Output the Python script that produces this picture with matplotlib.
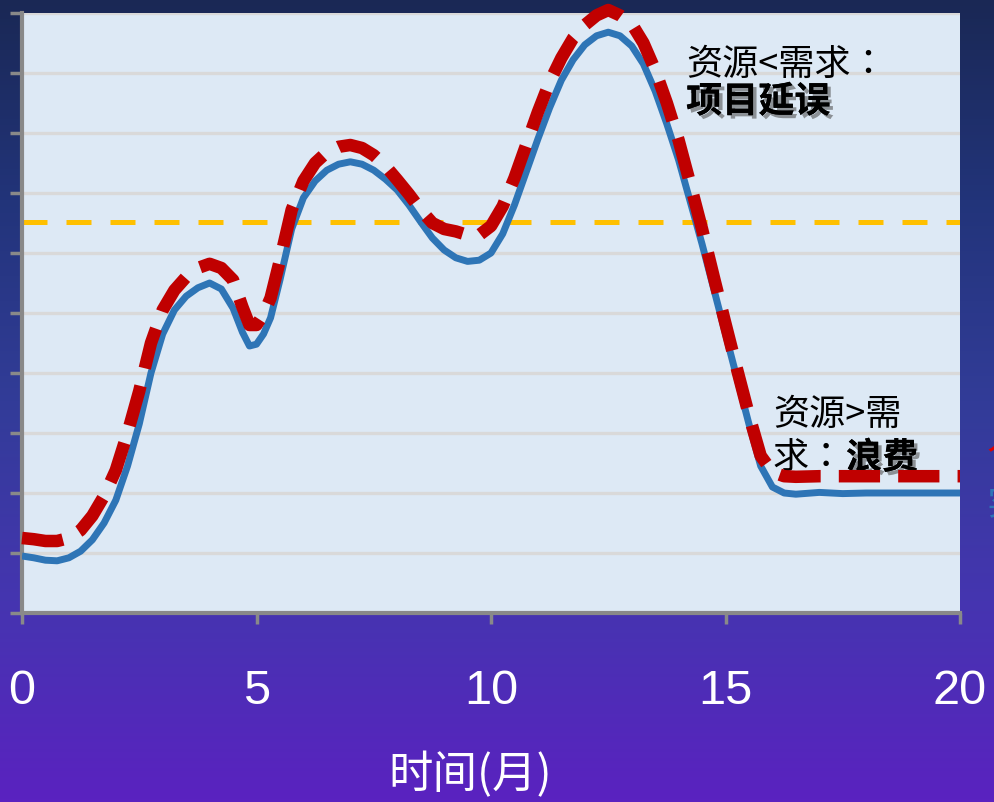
import numpy as np
import matplotlib
matplotlib.use('Agg')
import matplotlib.pyplot as plt
import matplotlib.patheffects as pe
from matplotlib.colors import LinearSegmentedColormap

plt.rcParams['font.family'] = ['Noto Sans CJK SC', 'DejaVu Sans']

# month axis and the two curves
months = [0, 0.25, 0.5, 0.75, 1.0, 1.25, 1.5, 1.75, 2.0, 2.25, 2.5, 2.75, 3.0, 3.25, 3.5,
          3.75, 4.0, 4.25, 4.5, 4.7, 4.85, 5.0, 5.15, 5.3, 5.5, 5.75, 6.0, 6.25, 6.5,
          6.75, 7.0, 7.25, 7.5, 7.75, 8.0, 8.25, 8.5, 8.75, 9.0, 9.25, 9.5, 9.75, 10.0,
          10.25, 10.5, 10.75, 11.0, 11.25, 11.5, 11.75, 12.0, 12.25, 12.5, 12.75, 13.0,
          13.25, 13.5, 13.75, 14.0, 14.25, 14.5, 14.75, 15.0, 15.25, 15.5, 15.75, 16.0,
          16.25, 16.5, 17.0, 17.5, 18.0, 19.0, 20.0]
resource = [0.95, 0.92, 0.88, 0.87, 0.92, 1.03, 1.22, 1.50, 1.88, 2.45, 3.15, 4.00, 4.65,
            5.05, 5.28, 5.42, 5.50, 5.40, 5.08, 4.68, 4.45, 4.48, 4.65, 4.92, 5.55, 6.40,
            6.92, 7.20, 7.38, 7.48, 7.52, 7.48, 7.38, 7.23, 7.05, 6.80, 6.52, 6.25, 6.05,
            5.92, 5.86, 5.88, 6.00, 6.32, 6.80, 7.35, 7.90, 8.42, 8.88, 9.22, 9.47, 9.62,
            9.68, 9.62, 9.45, 9.15, 8.70, 8.15, 7.55, 6.85, 6.15, 5.40, 4.65, 3.90, 3.15,
            2.45, 2.10, 2.00, 1.98, 2.01, 1.99, 2.00, 2.00, 2.00]
demand = [1.25, 1.23, 1.20, 1.20, 1.25, 1.38, 1.62, 1.95, 2.38, 3.00, 3.70, 4.50, 5.05,
          5.38, 5.60, 5.75, 5.82, 5.75, 5.55, 5.10, 4.80, 4.80, 4.98, 5.25, 5.88, 6.72,
          7.20, 7.50, 7.68, 7.77, 7.80, 7.75, 7.63, 7.45, 7.22, 6.98, 6.72, 6.50, 6.40,
          6.36, 6.30, 6.30, 6.45, 6.78, 7.25, 7.80, 8.35, 8.85, 9.25, 9.58, 9.80, 9.96,
          10.05, 9.96, 9.82, 9.50, 9.05, 8.50, 7.88, 7.15, 6.40, 5.60, 4.82, 4.05, 3.30,
          2.62, 2.35, 2.28, 2.27, 2.28, 2.28, 2.28, 2.28, 2.28]
avg_level = 6.52
xticks = [0, 5, 10, 15, 20]

fig = plt.figure(figsize=(9.94, 8.02), dpi=100)

# background gradient
bg = fig.add_axes([0, 0, 1, 1], zorder=-5)
cmap = LinearSegmentedColormap.from_list('bg', ['#1a2855', '#22347a', '#323c98', '#4535b0', '#5a22c0'])
bg.imshow(np.linspace(0, 1, 256).reshape(-1, 1), aspect='auto', cmap=cmap, extent=[0, 1, 0, 1])
bg.axis('off')

W, H = 994, 802
ax = fig.add_axes([22 / W, (H - 613) / H, (960 - 22) / W, (613 - 13) / H])
ax.set_facecolor('#dde9f5')
ax.set_xlim(0, 20)
ax.set_ylim(0, 10)
ax.set_yticks(range(0, 11))
ax.set_xticks(xticks)
ax.yaxis.grid(True, color='#d9d9d9', lw=2.4)
ax.set_axisbelow(True)
for s in ['top', 'right']:
    ax.spines[s].set_visible(False)
for s in ['left', 'bottom']:
    ax.spines[s].set_color('#898989')
    ax.spines[s].set_linewidth(3)
ax.tick_params(axis='y', length=9, width=2.5, color='#898989', labelleft=False)
ax.tick_params(axis='x', length=8, width=2.5, color='#898989', labelcolor='white',
               labelsize=35, pad=32)
for lab in ax.get_xticklabels():
    lab.set_family('Liberation Sans')

ax.axhline(avg_level, color='#ffc000', lw=3.6, dashes=(5, 3.8), zorder=2)
ax.plot(months, resource, color='#2e75b6', lw=5, zorder=3,
        solid_joinstyle='round', solid_capstyle='butt')
ax.plot(months, demand, color='#c00000', lw=9, dashes=(3.3, 1.45), zorder=4,
        clip_on=False, dash_joinstyle='round')

shadow = [pe.withSimplePatchShadow(offset=(2.5, -2.5), shadow_rgbFace='#555555', alpha=0.6), pe.Normal()]
# TC font keeps the full-width colon centred, as in the picture
cjk = ['Noto Sans CJK TC', 'DejaVu Sans']
ax.text(14.16, 9.14, '资源<需求：', fontsize=26, va='center', ha='left', color='black', family=cjk)
ax.text(14.16, 8.52, '项目延误', fontsize=26, fontweight='bold', va='center', ha='left',
        color='black', path_effects=shadow)
ax.text(16.01, 3.30, '资源>需', fontsize=26, va='center', ha='left', color='black', family=cjk)
ax.text(16.01, 2.58, '求：', fontsize=26, va='center', ha='left', color='black', family=cjk)
ax.text(17.57, 2.58, '浪费', fontsize=26, fontweight='bold', va='center', ha='left',
        color='black', path_effects=shadow)

# legend texts cut off at the right edge
fig.text(986 / W, 1 - 440 / H, '人力需求', color='#e00000', fontsize=26, va='center', ha='left')
fig.text(986 / W, 1 - 505 / H, '实际资源', color='#2e75b6', fontsize=26, va='center', ha='left')

fig.text(470 / W, 27 / H, '时间(月)', color='white', fontsize=32, ha='center', va='center')

fig.savefig('out.png', dpi=100)
